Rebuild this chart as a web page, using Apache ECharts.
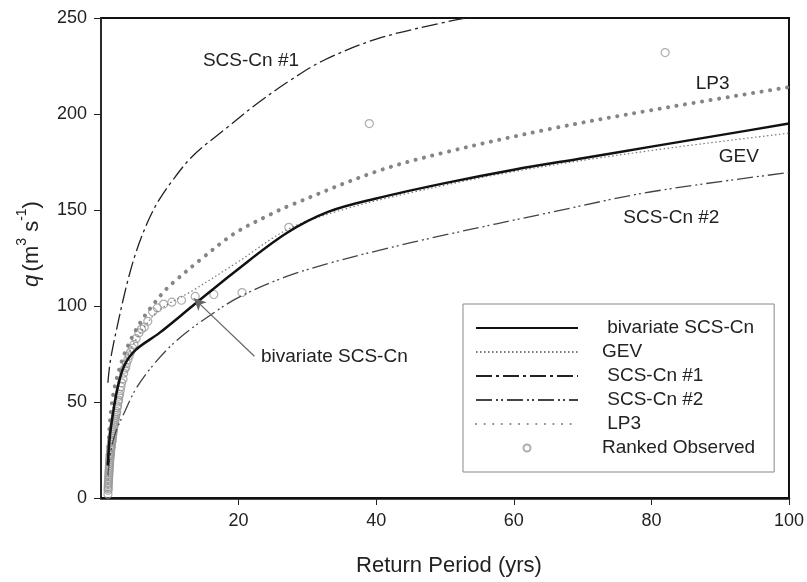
<!DOCTYPE html>
<html>
<head>
<meta charset="utf-8">
<script src="https://cdn.jsdelivr.net/npm/echarts@6/dist/echarts.min.js"></script>
<style>
  html, body { margin: 0; padding: 0; background: #fff; }
  #chart { width: 807px; height: 582px; }
</style>
</head>
<body>
<div id="chart"></div>
<script>
// return periods (yrs) and discharges (m3/s)
const xTicks = [20, 40, 60, 80, 100];
const yTicks = [0, 50, 100, 150, 200, 250];

const bivT = [1, 1.25, 1.7, 2.45, 3.4, 5, 8.5, 13.3, 19.5, 27, 33, 40, 50, 60, 70, 80, 90, 100];
const bivQ = [17, 31, 43, 58, 69, 77, 86, 100, 118, 138, 149, 156, 164, 171, 177, 183, 189, 195];

const gevT = [1, 1.2, 1.5, 2, 3, 4, 5, 6.5, 8.5, 13.3, 19.5, 27.2, 35, 45, 60, 80, 100];
const gevQ = [3, 25, 40, 52, 66, 75, 82, 90, 98, 108, 122, 140, 150, 159, 170, 181, 190];

const scs1T = [1, 1.3, 1.8, 2.4, 3.2, 4.1, 5, 6, 7.2, 8.4, 10.1, 13.3, 18, 22.9, 27.7, 32.4, 40, 49, 56, 65];
const scs1Q = [60, 70, 80, 90, 103, 116, 127, 137, 147, 155, 164, 178, 192, 206, 218, 228, 239, 247, 252, 258];

const scs2T = [1, 1.3, 1.7, 2.3, 3.2, 5.1, 8, 11.3, 15.4, 20, 26.7, 33.4, 41, 50, 65, 80, 100];
const scs2Q = [12, 21, 29, 36, 43, 57, 71, 83, 94, 104.5, 115, 122.5, 129.5, 137, 148.5, 159.5, 169.5];

const lp3T = [1, 1.2, 1.5, 2, 3, 4, 5, 6, 7.2, 8.2, 9.4, 10.6, 14.4, 19.5, 24.8, 27.2, 40, 50, 65, 80, 100];
const lp3Q = [18, 35, 47, 58, 71, 80, 87, 93, 99, 103.5, 108.5, 112.5, 124, 138, 148, 152, 170, 180, 192, 202, 214];

const obsT = [82, 39, 27.3, 20.5, 16.4, 13.7, 11.7, 10.3, 9.1, 8.2, 7.5, 6.8, 6.3, 5.9, 5.5, 5.1,
  4.8, 4.6, 4.3, 4.1, 3.9, 3.7, 3.6, 3.4, 3.3, 3.2, 3.0, 2.9, 2.8, 2.7, 2.6, 2.56, 2.48, 2.41,
  2.34, 2.28, 2.22, 2.16, 2.1, 2.05, 2.0, 1.95, 1.91, 1.86, 1.82, 1.78, 1.74, 1.71, 1.67, 1.64,
  1.61, 1.58, 1.55, 1.52, 1.49, 1.46, 1.44, 1.41, 1.39, 1.37, 1.34, 1.32, 1.3, 1.28, 1.26, 1.24,
  1.22, 1.21, 1.19, 1.17, 1.16, 1.14, 1.12, 1.11, 1.09, 1.08, 1.06, 1.05, 1.04, 1.03, 1.01];
const obsQ = [232, 195, 141, 107, 106, 105, 103, 102, 101, 99, 97, 92, 89, 88, 86, 83,
  80, 78, 76, 74, 72, 70, 68, 67, 65, 62, 60, 58, 56, 54, 53, 51, 50, 48,
  47, 45, 44, 43, 42, 41, 40, 39, 38, 37, 36, 35, 34, 33, 32, 31,
  30, 29.5, 29, 28, 27, 26.5, 26, 25, 24, 23, 22.5, 22, 21, 20, 19, 18,
  17, 16, 15, 14, 13, 12, 11, 10, 9, 8, 7, 6, 5, 4, 2];

// annotation: arrow tail / head, and in-plot curve labels
const arrowTail = [22.3, 73.8];
const arrowHead = [13.5, 104];
const curveLabels = [
  { series: "SCS-Cn #1", text: "SCS-Cn #1", at: [21.8, 227.6] },
  { series: "LP3", text: "LP3", at: [88.9, 215.5] },
  { series: "GEV", text: "GEV", at: [92.7, 177.8] },
  { series: "SCS-Cn #2", text: "SCS-Cn #2", at: [82.9, 146] }
];

const zip = (xs, ys) => xs.map((x, i) => [x, ys[i]]);
const textColor = "#222";
const font = "Liberation Sans, Arial, sans-serif";

function labelPoints(name) {
  return curveLabels.filter((l) => l.series === name).map((l) => ({
    coord: l.at,
    symbol: "circle",
    symbolSize: 1,
    itemStyle: { color: "transparent" },
    label: {
      show: true,
      position: "inside",
      formatter: l.text,
      color: textColor,
      fontSize: 19,
      fontFamily: font
    }
  }));
}

function curve(name, xs, ys, lineStyle, extra) {
  return Object.assign({
    name,
    type: "line",
    data: zip(xs, ys),
    symbol: "none",
    smooth: 0.35,
    lineStyle,
    itemStyle: { color: lineStyle.color },
    silent: true,
    z: 3,
    markPoint: {
      silent: true,
      data: labelPoints(name)
    }
  }, extra || {});
}

const legendNames = {
  "bivariate SCS-Cn": " bivariate SCS-Cn",
  "GEV": "GEV",
  "SCS-Cn #1": " SCS-Cn #1",
  "SCS-Cn #2": " SCS-Cn #2",
  "LP3": " LP3",
  "Ranked Observed": "Ranked Observed"
};

const chart = echarts.init(document.getElementById("chart"), null, { renderer: "canvas" });

chart.setOption({
  animation: false,
  backgroundColor: "#fff",
  textStyle: { fontFamily: font },
  grid: {
    left: 101,
    right: 15,
    top: 18,
    bottom: 83,
    show: true,
    borderColor: "#111",
    borderWidth: 2,
    containLabel: false
  },
  legend: {
    orient: "vertical",
    left: 463,
    top: 304,
    itemWidth: 102,
    itemHeight: 7,
    itemGap: 4,
    padding: [14, 19, 14, 12],
    borderColor: "#888",
    borderWidth: 1,
    backgroundColor: "#fff",
    selectedMode: false,
    formatter: (name) => legendNames[name] || name,
    textStyle: {
      color: textColor,
      fontSize: 19,
      lineHeight: 20,
      fontFamily: font,
      padding: [0, 0, 0, 19]
    },
    data: [
      { name: "bivariate SCS-Cn", itemStyle: { opacity: 0 } },
      { name: "GEV", itemStyle: { opacity: 0 } },
      { name: "SCS-Cn #1", itemStyle: { opacity: 0 } },
      { name: "SCS-Cn #2", itemStyle: { opacity: 0 } },
      { name: "LP3", itemStyle: { opacity: 0 } },
      { name: "Ranked Observed" }
    ]
  },
  xAxis: {
    type: "value",
    min: 0,
    max: 100,
    interval: 20,
    name: "Return Period (yrs)",
    nameLocation: "middle",
    nameGap: 57,
    nameTextStyle: { color: textColor, fontSize: 22, fontFamily: font, padding: [0, 0, 0, 8] },
    axisLine: { lineStyle: { color: "#111", width: 2.5 } },
    axisTick: { show: true, inside: false, length: 7, lineStyle: { color: "#222", width: 1 },
      customValues: xTicks },
    axisLabel: {
      color: textColor,
      fontSize: 18,
      margin: 14,
      customValues: xTicks
    },
    splitLine: { show: false }
  },
  yAxis: {
    type: "value",
    min: 0,
    max: 250,
    interval: 50,
    name: "{i|q} {n|(m}{s|3}{n| s}{s|-1}{n|)}",
    nameLocation: "middle",
    nameRotate: 90,
    nameGap: 58,
    nameTextStyle: {
      color: textColor,
      fontFamily: font,
      padding: [0, 0, 0, 28],
      rich: {
        i: { fontSize: 22, fontStyle: "italic", color: textColor, lineHeight: 28, verticalAlign: "bottom" },
        n: { fontSize: 22, color: textColor, lineHeight: 28, verticalAlign: "bottom" },
        s: { fontSize: 14, color: textColor, lineHeight: 28, verticalAlign: "top" }
      }
    },
    axisLine: { show: true, lineStyle: { color: "#333", width: 1.5 } },
    axisTick: { show: true, inside: false, length: 7, lineStyle: { color: "#222", width: 1 },
      customValues: yTicks },
    axisLabel: { color: textColor, fontSize: 18, margin: 14, customValues: yTicks },
    splitLine: { show: false }
  },
  series: [
    {
      name: "Ranked Observed",
      type: "scatter",
      data: zip(obsT, obsQ),
      symbol: "circle",
      symbolSize: 8,
      itemStyle: { color: "rgba(255,255,255,0)", borderColor: "#999", borderWidth: 1.2 },
      silent: true,
      z: 2
    },
    curve("SCS-Cn #2", scs2T, scs2Q, { color: "#444", width: 1.3, type: [16, 4, 2, 3, 2, 4] }),
    curve("SCS-Cn #1", scs1T, scs1Q, { color: "#222", width: 1.3, type: [16, 4, 3, 4] }),
    curve("LP3", lp3T, lp3Q, { color: "#858585", width: 4, cap: "round", type: [0.1, 8.5] }),
    curve("GEV", gevT, gevQ, { color: "#777", width: 1.2, type: [1.5, 2.5] }),
    curve("bivariate SCS-Cn", bivT, bivQ, { color: "#111", width: 2.5 }, {
      z: 4,
      markLine: {
        silent: true,
        symbol: ["none", "arrow"],
        symbolSize: [9, 12],
        lineStyle: { color: "#666", width: 1.2, type: "solid" },
        label: { show: false },
        data: [[{ coord: arrowTail }, { coord: arrowHead }]]
      },
      markPoint: {
        silent: true,
        data: [{
          coord: arrowTail,
          symbol: "circle",
          symbolSize: 1,
          itemStyle: { color: "transparent" },
          label: {
            show: true,
            position: "right",
            distance: 6,
            formatter: "bivariate SCS-Cn",
            color: textColor,
            fontSize: 19,
            fontFamily: font
          }
        }]
      }
    })
  ]
});
</script>
</body>
</html>
